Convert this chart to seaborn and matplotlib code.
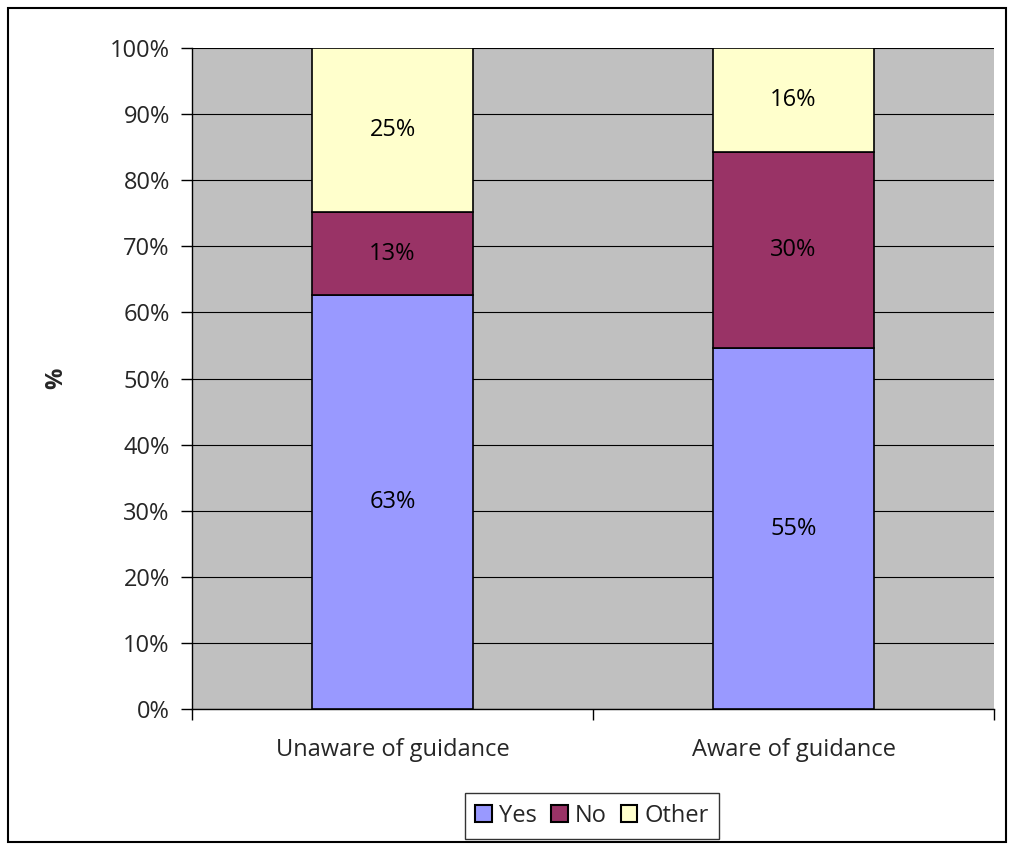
import matplotlib
matplotlib.use("Agg")
import matplotlib.pyplot as plt
import seaborn as sns
import pandas as pd
import numpy as np
from matplotlib.patches import Rectangle, Patch

categories = ["Unaware of guidance", "Aware of guidance"]
yes_vals = [62.6, 54.6]
no_vals = [12.6, 29.6]
other_vals = [24.8, 15.8]
series_names = ["Yes", "No", "Other"]
colors = ["#9999FF", "#993366", "#FFFFCC"]
yticks = list(range(0, 101, 10))

sns.set_theme(style="white")
plt.rcParams['font.family'] = ['Open Sans', 'DejaVu Sans']
FS = 17

fig = plt.figure(figsize=(10.13, 8.49), dpi=100)
ax = fig.add_axes([192/1013, 1-709/849, (994-192)/1013, (709-48)/849])
ax.set_facecolor("#C0C0C0")

df = pd.DataFrame({"cat": categories, "Yes": yes_vals, "No": no_vals, "Other": other_vals})
bottom = np.zeros(len(categories))
for name, col in zip(series_names, colors):
    sns.barplot(data=df, x="cat", y=name, color=col, bottom=bottom, width=0.4,
                edgecolor="black", linewidth=1.2, ax=ax, zorder=3, saturation=1)
    for i, v in enumerate(df[name]):
        ax.text(i, bottom[i] + v/2, f"{v:.0f}%", ha="center", va="center",
                fontsize=FS, color="black", zorder=4)
    bottom = bottom + df[name].values

ax.set_xlim(-0.5, 1.5)
ax.set_ylim(0, 100)
ax.set_yticks(yticks)
ax.set_yticklabels([f"{t}%" for t in yticks], fontsize=FS)
ax.yaxis.grid(True, color="black", linewidth=0.8, zorder=0)
ax.set_axisbelow(True)
ax.tick_params(axis="y", which="major", length=8, width=1, color="black", direction="out", pad=8, left=True)
ax.set_xticks([0, 1])
ax.set_xticklabels(categories, fontsize=FS)
ax.set_xticks([-0.5, 0.5, 1.5], minor=True)
ax.tick_params(axis="x", which="major", length=0, pad=21)
ax.tick_params(axis="x", which="minor", length=8, width=1, color="black", direction="out", bottom=True)
ax.set_xlabel("")
ax.set_ylabel("%", fontsize=FS, fontweight="bold", labelpad=30)
for s in ["top", "right"]:
    ax.spines[s].set_visible(False)
for s in ["left", "bottom"]:
    ax.spines[s].set_visible(True)
    ax.spines[s].set_color("black")
    ax.spines[s].set_linewidth(1)

handles = [Patch(facecolor=c, edgecolor="black", linewidth=1.5, label=n) for n, c in zip(series_names, colors)]
leg = fig.legend(handles=handles, loc="center", bbox_to_anchor=(592/1013, 1-816/849), ncol=3,
                 fontsize=FS, frameon=True, fancybox=False, edgecolor="black",
                 handlelength=0.7, handleheight=0.7, handletextpad=0.3, columnspacing=0.6,
                 borderpad=0.45)
leg.get_frame().set_linewidth(1)

fig.patches.append(Rectangle((8/1013, 7/849), (1006-8)/1013, (842-8)/849, transform=fig.transFigure,
                             fill=False, edgecolor="black", linewidth=1.5))

fig.savefig("out.png", dpi=100)
